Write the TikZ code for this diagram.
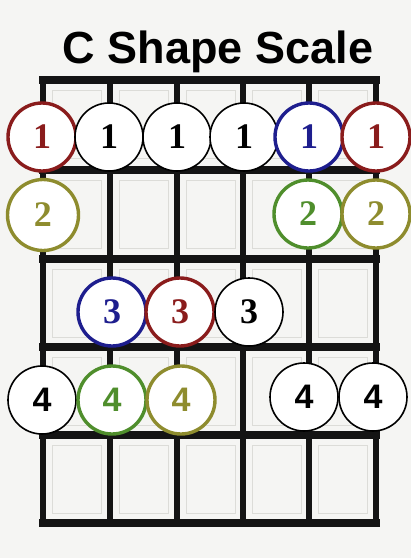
\documentclass[tikz,border=0pt]{standalone}
\usepackage{fontspec}
\setmainfont{Liberation Serif}
\setsansfont{Liberation Sans}
\usetikzlibrary{calc, positioning}
\definecolor{PaperGrey}{HTML}{F5F5F3}
\definecolor{GhostLine}{HTML}{DCDCD8}
\definecolor{FretInk}{HTML}{141414}
\definecolor{RootRed}{HTML}{8A1C1C}
\definecolor{DeepBlue}{HTML}{1E1E8E}
\definecolor{OliveTone}{HTML}{8E8C2E}
\definecolor{LeafGreen}{HTML}{4F8E2C}

\begin{document}
\begin{tikzpicture}[x=1pt, y=-1pt,
    finger/.style={circle, draw=black, line width=1.6pt, fill=white, minimum size=68pt, inner sep=0pt,
        font=\fontsize{36}{36}\selectfont\bfseries},
    fingersans/.style={finger, font=\sffamily\fontsize{34}{34}\selectfont\bfseries},
    ringed/.style={draw=#1, text=#1, line width=3.4pt}]
        \useasboundingbox (0,0) rectangle (411,558);
        \fill[PaperGrey] (0,0) rectangle (411,558);

        % faint cells behind the fretboard
        \foreach \x in {43,110,177,243,309} {
            \foreach \y in {80,170,259,347,435} {
                \draw[GhostLine, line width=0.6pt] (\x+9,\y+10) rectangle (\x+58,\y+78);
            }
        }

        % frets and strings
        \foreach \y in {80,170,259,347,435,523} {
            \draw[FretInk, line width=8pt] (39,\y) -- (380,\y);
        }
        \foreach \x in {43,110,177,243,309,376} {
            \draw[FretInk, line width=6.5pt] (\x,80) -- (\x,523);
        }

        \node[font=\sffamily\fontsize{45}{45}\selectfont\bfseries, anchor=base] (title) at (218,63) {C Shape Scale};

        % Fret 1
        \node[finger, ringed=RootRed] (f1a) at (42,137) {1};
        \node[finger] (f1b) at (109,137) {1};
        \node[finger] (f1c) at (177,137) {1};
        \node[finger] (f1d) at (244,137) {1};
        \node[finger, ringed=DeepBlue] (f1e) at (309,137) {1};
        \node[finger, ringed=RootRed] (f1f) at (376,137) {1};

        % Fret 2
        \node[finger, ringed=OliveTone, minimum size=71pt] (f2a) at (43,215) {2};
        \node[finger, ringed=LeafGreen] (f2e) at (308,214) {2};
        \node[finger, ringed=OliveTone] (f2f) at (376,214) {2};

        % Fret 3
        \node[finger, ringed=DeepBlue] (f3b) at (112,312) {3};
        \node[finger, ringed=RootRed] (f3c) at (180,312) {3};
        \node[finger] (f3d) at (249,312) {3};

        % Fret 4
        \node[fingersans] (f4a) at (42,400) {4};
        \node[fingersans, ringed=LeafGreen] (f4b) at (112,400) {4};
        \node[fingersans, ringed=OliveTone] (f4c) at (181,400) {4};
        \node[fingersans] (f4e) at (304,397) {4};
        \node[fingersans] (f4f) at (373,397) {4};
\end{tikzpicture}
\end{document}
